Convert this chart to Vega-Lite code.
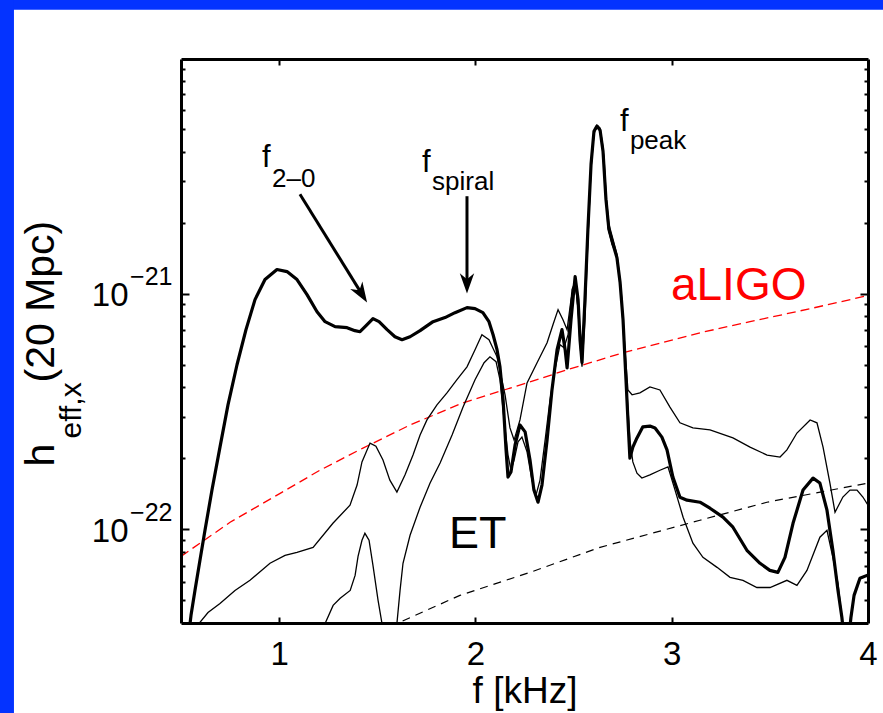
{
  "$schema": "https://vega.github.io/schema/vega-lite/v6.json",
  "width": 687,
  "height": 564,
  "autosize": {"type": "none"},
  "padding": {"left": 181, "top": 59, "right": 15, "bottom": 90},
  "background": "white",
  "config": {
    "font": "Liberation Sans",
    "view": {"stroke": null},
    "axis": {"grid": false, "labelColor": "black", "titleColor": "black", "titleFontWeight": "normal", "tickColor": "black", "domainColor": "black", "labelFont": "Liberation Sans", "titleFont": "Liberation Sans"}
  },
  "datasets": {
    "thick": [
      {"f":0.5357,"h":3.37e-23},{"f":0.551,"h":4.31e-23},{"f":0.5711,"h":5.50e-23},{"f":0.5966,"h":7.38e-23},{"f":0.6222,"h":9.90e-23},{"f":0.6578,"h":1.466e-22},{"f":0.6986,"h":2.23e-22},{"f":0.7394,"h":3.37e-22},{"f":0.7853,"h":4.99e-22},{"f":0.8311,"h":7.03e-22},{"f":0.877,"h":9.43e-22},{"f":0.9279,"h":1.147e-21},{"f":0.989,"h":1.265e-21},{"f":1.040,"h":1.24e-21},{"f":1.091,"h":1.147e-21},{"f":1.142,"h":9.90e-22},{"f":1.193,"h":8.38e-22},{"f":1.234,"h":7.60e-22},{"f":1.285,"h":7.24e-22},{"f":1.346,"h":7.17e-22},{"f":1.386,"h":6.96e-22},{"f":1.412,"h":6.89e-22},{"f":1.443,"h":7.31e-22},{"f":1.478,"h":7.83e-22},{"f":1.509,"h":7.60e-22},{"f":1.550,"h":7.03e-22},{"f":1.590,"h":6.56e-22},{"f":1.626,"h":6.37e-22},{"f":1.667,"h":6.56e-22},{"f":1.718,"h":6.96e-22},{"f":1.784,"h":7.60e-22},{"f":1.845,"h":7.91e-22},{"f":1.896,"h":8.30e-22},{"f":1.957,"h":8.72e-22},{"f":1.998,"h":8.63e-22},{"f":2.038,"h":8.30e-22},{"f":2.069,"h":7.60e-22},{"f":2.090,"h":6.69e-22},{"f":2.110,"h":5.78e-22},{"f":2.125,"h":4.89e-22},{"f":2.141,"h":3.54e-22},{"f":2.156,"h":2.17e-22},{"f":2.166,"h":1.665e-22},{"f":2.181,"h":1.75e-22},{"f":2.202,"h":2.28e-22},{"f":2.227,"h":2.77e-22},{"f":2.253,"h":2.59e-22},{"f":2.278,"h":1.966e-22},{"f":2.298,"h":1.466e-22},{"f":2.319,"h":1.302e-22},{"f":2.339,"h":1.54e-22},{"f":2.365,"h":2.39e-22},{"f":2.390,"h":3.90e-22},{"f":2.416,"h":5.78e-22},{"f":2.441,"h":7.03e-22},{"f":2.457,"h":5.78e-22},{"f":2.467,"h":4.84e-22},{"f":2.487,"h":7.75e-22},{"f":2.508,"h":1.181e-21},{"f":2.523,"h":9.43e-22},{"f":2.533,"h":6.37e-22},{"f":2.543,"h":5.09e-22},{"f":2.558,"h":9.43e-22},{"f":2.573,"h":1.872e-21},{"f":2.589,"h":3.54e-21},{"f":2.604,"h":4.89e-21},{"f":2.619,"h":5.14e-21},{"f":2.635,"h":4.94e-21},{"f":2.650,"h":4.02e-21},{"f":2.665,"h":2.51e-21},{"f":2.680,"h":1.872e-21},{"f":2.701,"h":1.62e-21},{"f":2.721,"h":1.42e-21},{"f":2.737,"h":1.114e-21},{"f":2.752,"h":7.75e-22},{"f":2.767,"h":4.31e-22},{"f":2.777,"h":2.91e-22},{"f":2.787,"h":2.005e-22},{"f":2.802,"h":2.23e-22},{"f":2.823,"h":2.44e-22},{"f":2.853,"h":2.72e-22},{"f":2.889,"h":2.74e-22},{"f":2.915,"h":2.69e-22},{"f":2.950,"h":2.46e-22},{"f":2.976,"h":2.17e-22},{"f":3.006,"h":1.665e-22},{"f":3.042,"h":1.368e-22},{"f":3.078,"h":1.328e-22},{"f":3.144,"h":1.302e-22},{"f":3.195,"h":1.228e-22},{"f":3.261,"h":1.125e-22},{"f":3.312,"h":1.020e-22},{"f":3.383,"h":8.14e-23},{"f":3.450,"h":7.17e-23},{"f":3.500,"h":6.69e-23},{"f":3.541,"h":6.56e-23},{"f":3.577,"h":7.60e-23},{"f":3.618,"h":1.06e-22},{"f":3.669,"h":1.466e-22},{"f":3.720,"h":1.648e-22},{"f":3.755,"h":1.57e-22},{"f":3.791,"h":1.205e-22},{"f":3.821,"h":8.14e-23},{"f":3.847,"h":5.50e-23},{"f":3.867,"h":4.22e-23},{"f":3.882,"h":3.21e-23},{"f":3.898,"h":3.21e-23},{"f":3.913,"h":4.22e-23},{"f":3.929,"h":5.24e-23},{"f":3.959,"h":6.19e-23},{"f":3.995,"h":6.37e-23},{"f":4.020,"h":6.19e-23}
    ],
    "thin1": [
      {"f":0.5764,"h":3.37e-23},{"f":0.5917,"h":3.98e-23},{"f":0.6376,"h":4.43e-23},{"f":0.6986,"h":4.84e-23},{"f":0.775,"h":5.50e-23},{"f":0.8515,"h":6.07e-23},{"f":0.9534,"h":7.17e-23},{"f":1.030,"h":7.75e-23},{"f":1.091,"h":7.98e-23},{"f":1.173,"h":8.38e-23},{"f":1.274,"h":1.06e-22},{"f":1.361,"h":1.265e-22},{"f":1.397,"h":1.54e-22},{"f":1.422,"h":1.93e-22},{"f":1.463,"h":2.32e-22},{"f":1.493,"h":2.25e-22},{"f":1.529,"h":1.966e-22},{"f":1.564,"h":1.616e-22},{"f":1.600,"h":1.437e-22},{"f":1.641,"h":1.698e-22},{"f":1.682,"h":2.065e-22},{"f":1.718,"h":2.51e-22},{"f":1.753,"h":2.91e-22},{"f":1.804,"h":3.37e-22},{"f":1.855,"h":3.79e-22},{"f":1.906,"h":4.31e-22},{"f":1.957,"h":4.89e-22},{"f":1.998,"h":5.78e-22},{"f":2.033,"h":6.69e-22},{"f":2.069,"h":6.37e-22},{"f":2.110,"h":5.39e-22},{"f":2.151,"h":3.72e-22},{"f":2.176,"h":2.69e-22},{"f":2.197,"h":2.39e-22},{"f":2.227,"h":2.91e-22},{"f":2.263,"h":4.18e-22},{"f":2.314,"h":5.09e-22},{"f":2.365,"h":6.19e-22},{"f":2.395,"h":7.38e-22},{"f":2.421,"h":8.55e-22},{"f":2.446,"h":7.75e-22},{"f":2.467,"h":7.03e-22},{"f":2.487,"h":9.43e-22},{"f":2.508,"h":1.147e-21},{"f":2.523,"h":8.55e-22},{"f":2.538,"h":5.89e-22},{"f":2.554,"h":7.75e-22},{"f":2.573,"h":1.698e-21},{"f":2.589,"h":3.37e-21},{"f":2.604,"h":4.75e-21},{"f":2.619,"h":5.19e-21},{"f":2.635,"h":5.04e-21},{"f":2.650,"h":4.18e-21},{"f":2.665,"h":2.64e-21},{"f":2.680,"h":1.97e-21},{"f":2.701,"h":1.70e-21},{"f":2.721,"h":1.47e-21},{"f":2.742,"h":1.04e-21},{"f":2.762,"h":5.78e-22},{"f":2.777,"h":3.90e-22},{"f":2.798,"h":3.72e-22},{"f":2.838,"h":3.79e-22},{"f":2.889,"h":4.02e-22},{"f":2.940,"h":3.90e-22},{"f":2.991,"h":3.30e-22},{"f":3.042,"h":2.83e-22},{"f":3.108,"h":2.69e-22},{"f":3.195,"h":2.64e-22},{"f":3.312,"h":2.44e-22},{"f":3.399,"h":2.23e-22},{"f":3.486,"h":2.065e-22},{"f":3.552,"h":2.025e-22},{"f":3.587,"h":2.17e-22},{"f":3.638,"h":2.56e-22},{"f":3.705,"h":2.91e-22},{"f":3.740,"h":2.83e-22},{"f":3.771,"h":2.23e-22},{"f":3.806,"h":1.57e-22},{"f":3.832,"h":1.18e-22},{"f":3.872,"h":1.37e-22},{"f":3.908,"h":1.466e-22},{"f":3.944,"h":1.466e-22},{"f":3.974,"h":1.37e-22},{"f":4.0,"h":1.265e-22}
    ],
    "thin2": [
      {"f":1.210,"h":3.37e-23},{"f":1.234,"h":3.98e-23},{"f":1.275,"h":4.75e-23},{"f":1.311,"h":5.09e-23},{"f":1.362,"h":5.50e-23},{"f":1.387,"h":6.37e-23},{"f":1.402,"h":7.67e-23},{"f":1.422,"h":8.98e-23},{"f":1.437,"h":9.61e-23},{"f":1.458,"h":8.98e-23},{"f":1.478,"h":7.03e-23},{"f":1.504,"h":4.99e-23},{"f":1.524,"h":3.98e-23},{"f":1.534,"h":3.21e-23},{"f":1.585,"h":3.21e-23},{"f":1.600,"h":3.98e-23},{"f":1.616,"h":5.50e-23},{"f":1.631,"h":7.17e-23},{"f":1.667,"h":9.43e-23},{"f":1.718,"h":1.24e-22},{"f":1.769,"h":1.57e-22},{"f":1.820,"h":1.91e-22},{"f":1.881,"h":2.51e-22},{"f":1.937,"h":3.30e-22},{"f":1.998,"h":4.31e-22},{"f":2.044,"h":5.09e-22},{"f":2.074,"h":5.39e-22},{"f":2.105,"h":5.14e-22},{"f":2.125,"h":4.31e-22},{"f":2.146,"h":2.91e-22},{"f":2.166,"h":2.065e-22},{"f":2.181,"h":1.78e-22},{"f":2.197,"h":1.966e-22},{"f":2.217,"h":2.35e-22},{"f":2.237,"h":2.46e-22},{"f":2.263,"h":2.13e-22},{"f":2.288,"h":1.616e-22},{"f":2.309,"h":1.40e-22},{"f":2.329,"h":1.616e-22},{"f":2.355,"h":2.39e-22},{"f":2.380,"h":3.54e-22},{"f":2.405,"h":4.75e-22},{"f":2.431,"h":6.07e-22},{"f":2.451,"h":5.89e-22},{"f":2.472,"h":6.69e-22},{"f":2.492,"h":1.04e-21},{"f":2.508,"h":1.125e-21},{"f":2.523,"h":8.55e-22},{"f":2.533,"h":6.07e-22},{"f":2.543,"h":4.89e-22},{"f":2.558,"h":7.75e-22},{"f":2.573,"h":1.70e-21},{"f":2.589,"h":3.47e-21},{"f":2.604,"h":4.84e-21},{"f":2.619,"h":5.09e-21},{"f":2.635,"h":4.89e-21},{"f":2.655,"h":3.79e-21},{"f":2.675,"h":1.91e-21},{"f":2.696,"h":1.62e-21},{"f":2.721,"h":1.45e-21},{"f":2.742,"h":1.02e-21},{"f":2.762,"h":5.24e-22},{"f":2.787,"h":2.39e-22},{"f":2.802,"h":1.93e-22},{"f":2.823,"h":1.73e-22},{"f":2.848,"h":1.65e-22},{"f":2.889,"h":1.70e-22},{"f":2.940,"h":1.78e-22},{"f":2.981,"h":1.84e-22},{"f":3.017,"h":1.466e-22},{"f":3.058,"h":1.125e-22},{"f":3.108,"h":8.72e-23},{"f":3.159,"h":7.60e-23},{"f":3.231,"h":6.89e-23},{"f":3.297,"h":6.25e-23},{"f":3.363,"h":6.07e-23},{"f":3.434,"h":5.66e-23},{"f":3.501,"h":5.66e-23},{"f":3.587,"h":6.07e-23},{"f":3.638,"h":5.78e-23},{"f":3.689,"h":6.69e-23},{"f":3.755,"h":9.25e-23},{"f":3.791,"h":9.90e-23},{"f":3.821,"h":7.60e-23},{"f":3.847,"h":5.89e-23},{"f":3.867,"h":4.22e-23},{"f":3.877,"h":3.21e-23}
    ],
    "aligo": [
      {"f":0.5,"h":7.67e-23},{"f":0.75,"h":1.07e-22},{"f":1.005,"h":1.42e-22},{"f":1.208,"h":1.78e-22},{"f":1.427,"h":2.21e-22},{"f":1.667,"h":2.77e-22},{"f":1.937,"h":3.44e-22},{"f":2.278,"h":4.22e-22},{"f":2.467,"h":4.75e-22},{"f":2.752,"h":5.61e-22},{"f":3.144,"h":6.82e-22},{"f":3.399,"h":7.60e-22},{"f":3.705,"h":8.63e-22},{"f":4.0,"h":9.81e-22}
    ],
    "et": [
      {"f":1.566,"h":3.83e-23},{"f":1.600,"h":3.98e-23},{"f":1.921,"h":5.24e-23},{"f":2.278,"h":6.56e-23},{"f":2.635,"h":8.38e-23},{"f":3.144,"h":1.092e-22},{"f":3.485,"h":1.302e-22},{"f":4.0,"h":1.57e-22}
    ],
    "shafts": [
      {"f":1.106,"h":2.64e-21,"f2":1.417,"h2":1.01e-21},
      {"f":1.957,"h":2.59e-21,"f2":1.957,"h2":1.11e-21}
    ],
    "head1": [{"f":1.448,"h":9.16e-22}],
    "head2": [{"f":1.957,"h":1.0e-21}],
    "mainText": [
      {"f":0.9127,"h":3.44e-21,"t":"f"},
      {"f":1.728,"h":3.27e-21,"t":"f"},
      {"f":2.736,"h":4.89e-21,"t":"f"}
    ],
    "subText": [
      {"f":0.9636,"h":2.83e-21,"t":"2–0"},
      {"f":1.779,"h":2.74e-21,"t":"spiral"},
      {"f":2.787,"h":4.10e-21,"t":"peak"}
    ],
    "etText": [{"f":1.865,"h":8.30e-23,"t":"ET"}],
    "ligoText": [{"f":2.996,"h":9.43e-22,"t":"aLIGO"}]
  },
  "resolve": {"axis": {"x": "independent", "y": "independent"}},
  "layer": [
    {
      "data": {"values": [{}]},
      "mark": {"type": "rect", "color": "#0433ff", "clip": false},
      "encoding": {
        "x": {"datum": -2, "type": "quantitative", "scale": {"domain": [0.5, 4], "nice": false}, "axis": null},
        "x2": {"datum": 5},
        "y": {"datum": 1e-19, "type": "quantitative", "scale": {"type": "log", "domain": [4e-23, 9.9e-21], "nice": false}, "axis": null},
        "y2": {"datum": 1.6e-20}
      }
    },
    {
      "data": {"values": [{}]},
      "mark": {"type": "rect", "color": "#0433ff", "clip": false},
      "encoding": {
        "x": {"datum": -2, "type": "quantitative", "scale": {"domain": [0.5, 4], "nice": false}, "axis": null},
        "x2": {"datum": -0.351},
        "y": {"datum": 1e-19, "type": "quantitative", "scale": {"type": "log", "domain": [4e-23, 9.9e-21], "nice": false}, "axis": null},
        "y2": {"datum": 1e-24}
      }
    },
    {
      "data": {"name": "aligo"},
      "mark": {"type": "line", "color": "#ff0000", "strokeWidth": 1.3, "strokeDash": [9, 5], "clip": true},
      "encoding": {
        "x": {"field": "f", "type": "quantitative", "scale": {"domain": [0.5, 4], "nice": false},
          "axis": {"zindex": 2, "orient": "bottom", "values": [1, 2, 3], "labels": false, "ticks": true, "tickSize": -6, "tickWidth": 2, "domain": false, "title": null}},
        "y": {"field": "h", "type": "quantitative", "scale": {"type": "log", "domain": [4e-23, 9.9e-21], "nice": false},
          "axis": {"zindex": 2, "orient": "left", "values": [1e-22, 1e-21], "labelExpr": "datum.value < 5e-22 ? '−22' : '−21'", "labelFontSize": 25, "labelAlign": "right", "labelBaseline": "alphabetic", "labelPadding": 9, "labelOffset": -9, "labelFlush": false, "ticks": false, "domain": false,
            "title": "(20 Mpc)", "titleFontSize": 41, "titleX": -128, "titleY": 323, "titleAngle": 270, "titleAlign": "left", "titleBaseline": "alphabetic"}}
      }
    },
    {
      "data": {"name": "et"},
      "mark": {"type": "line", "color": "black", "strokeWidth": 1.2, "strokeDash": [8, 6], "clip": true},
      "encoding": {
        "x": {"field": "f", "type": "quantitative", "scale": {"domain": [0.5, 4], "nice": false}, "axis": null},
        "y": {"field": "h", "type": "quantitative", "scale": {"type": "log", "domain": [4e-23, 9.9e-21], "nice": false},
          "axis": {"zindex": 2, "orient": "left", "values": [1e-22, 1e-21], "labels": false, "ticks": true, "tickSize": -8, "tickWidth": 2, "domain": false, "title": null}}
      }
    },
    {
      "data": {"name": "thin1"},
      "mark": {"type": "line", "color": "black", "strokeWidth": 1.3, "clip": true},
      "encoding": {
        "x": {"field": "f", "type": "quantitative", "scale": {"domain": [0.5, 4], "nice": false}, "axis": null},
        "y": {"field": "h", "type": "quantitative", "scale": {"type": "log", "domain": [4e-23, 9.9e-21], "nice": false},
          "axis": {"zindex": 2, "orient": "left", "values": [5e-23,6e-23,7e-23,8e-23,9e-23,2e-22,3e-22,4e-22,5e-22,6e-22,7e-22,8e-22,9e-22,2e-21,3e-21,4e-21,5e-21,6e-21,7e-21,8e-21,9e-21],
            "labels": false, "ticks": true, "tickWidth": 2, "tickSize": -4, "domain": false,
            "title": "eff,x", "titleFontSize": 30, "titleX": -101, "titleY": 379, "titleAngle": 270, "titleAlign": "left", "titleBaseline": "alphabetic"}}
      }
    },
    {
      "data": {"name": "thin2"},
      "mark": {"type": "line", "color": "black", "strokeWidth": 1.3, "clip": true},
      "encoding": {
        "x": {"field": "f", "type": "quantitative", "scale": {"domain": [0.5, 4], "nice": false},
          "axis": {"zindex": 2, "orient": "top", "values": [1, 2, 3], "labels": false, "ticks": true, "tickSize": -6, "tickWidth": 2, "domain": true, "domainWidth": 3, "title": null}},
        "y": {"field": "h", "type": "quantitative", "scale": {"type": "log", "domain": [4e-23, 9.9e-21], "nice": false},
          "axis": {"zindex": 2, "orient": "right", "values": [5e-23,6e-23,7e-23,8e-23,9e-23,2e-22,3e-22,4e-22,5e-22,6e-22,7e-22,8e-22,9e-22,2e-21,3e-21,4e-21,5e-21,6e-21,7e-21,8e-21,9e-21],
            "labels": false, "ticks": true, "tickWidth": 2, "tickSize": -4, "domain": true, "domainWidth": 3, "title": null}}
      }
    },
    {
      "data": {"name": "thick"},
      "mark": {"type": "line", "color": "black", "strokeWidth": 3.2, "strokeJoin": "round", "clip": true},
      "encoding": {
        "x": {"field": "f", "type": "quantitative", "scale": {"domain": [0.5, 4], "nice": false},
          "axis": {"zindex": 2, "orient": "bottom", "values": [1, 2, 3, 4], "labelFontSize": 33, "labelAlign": "center", "labelBaseline": "alphabetic", "labelPadding": 41, "labelFlush": false, "ticks": false, "domain": true, "domainWidth": 3,
            "title": "f [kHz]", "titleFontSize": 37, "titleBaseline": "alphabetic", "titleY": 79}},
        "y": {"field": "h", "type": "quantitative", "scale": {"type": "log", "domain": [4e-23, 9.9e-21], "nice": false},
          "axis": {"zindex": 2, "orient": "left", "values": [1e-22, 1e-21], "labelExpr": "'10'", "labelFontSize": 33, "labelAlign": "right", "labelBaseline": "alphabetic", "labelPadding": 53, "labelOffset": 12, "labelFlush": false, "ticks": false, "domain": true, "domainWidth": 3,
            "title": "h", "titleFontSize": 41, "titleX": -128, "titleY": 407, "titleAngle": 270, "titleAlign": "left", "titleBaseline": "alphabetic"}}
      }
    },
    {
      "data": {"name": "shafts"},
      "mark": {"type": "rule", "color": "black", "strokeWidth": 3},
      "encoding": {
        "x": {"field": "f", "type": "quantitative", "scale": {"domain": [0.5, 4], "nice": false}, "axis": null},
        "x2": {"field": "f2"},
        "y": {"field": "h", "type": "quantitative", "scale": {"type": "log", "domain": [4e-23, 9.9e-21], "nice": false},
          "axis": {"zindex": 2, "orient": "right", "values": [1e-22, 1e-21], "labels": false, "ticks": true, "tickSize": -8, "tickWidth": 2, "domain": false, "title": null}},
        "y2": {"field": "h2"}
      }
    },
    {
      "data": {"name": "head1"},
      "mark": {"type": "point", "shape": "M0,0 L-0.6,-1.7 L0,-1.2 L0.6,-1.7 Z", "size": 576, "angle": -32, "filled": true, "color": "black", "opacity": 1, "strokeWidth": 0},
      "encoding": {
        "x": {"field": "f", "type": "quantitative", "scale": {"domain": [0.5, 4], "nice": false}, "axis": null},
        "y": {"field": "h", "type": "quantitative", "scale": {"type": "log", "domain": [4e-23, 9.9e-21], "nice": false}, "axis": null}
      }
    },
    {
      "data": {"name": "head2"},
      "mark": {"type": "point", "shape": "M0,0 L-0.6,-1.7 L0,-1.2 L0.6,-1.7 Z", "size": 576, "angle": 0, "filled": true, "color": "black", "opacity": 1, "strokeWidth": 0},
      "encoding": {
        "x": {"field": "f", "type": "quantitative", "scale": {"domain": [0.5, 4], "nice": false}, "axis": null},
        "y": {"field": "h", "type": "quantitative", "scale": {"type": "log", "domain": [4e-23, 9.9e-21], "nice": false}, "axis": null}
      }
    },
    {
      "data": {"name": "mainText"},
      "mark": {"type": "text", "align": "left", "baseline": "alphabetic", "fontSize": 31, "color": "black", "font": "Liberation Sans"},
      "encoding": {
        "x": {"field": "f", "type": "quantitative", "scale": {"domain": [0.5, 4], "nice": false}, "axis": null},
        "y": {"field": "h", "type": "quantitative", "scale": {"type": "log", "domain": [4e-23, 9.9e-21], "nice": false}, "axis": null},
        "text": {"field": "t"}
      }
    },
    {
      "data": {"name": "subText"},
      "mark": {"type": "text", "align": "left", "baseline": "alphabetic", "fontSize": 26, "color": "black", "font": "Liberation Sans"},
      "encoding": {
        "x": {"field": "f", "type": "quantitative", "scale": {"domain": [0.5, 4], "nice": false}, "axis": null},
        "y": {"field": "h", "type": "quantitative", "scale": {"type": "log", "domain": [4e-23, 9.9e-21], "nice": false}, "axis": null},
        "text": {"field": "t"}
      }
    },
    {
      "data": {"name": "etText"},
      "mark": {"type": "text", "align": "left", "baseline": "alphabetic", "fontSize": 45, "color": "black", "font": "Liberation Sans"},
      "encoding": {
        "x": {"field": "f", "type": "quantitative", "scale": {"domain": [0.5, 4], "nice": false}, "axis": null},
        "y": {"field": "h", "type": "quantitative", "scale": {"type": "log", "domain": [4e-23, 9.9e-21], "nice": false}, "axis": null},
        "text": {"field": "t"}
      }
    },
    {
      "data": {"name": "ligoText"},
      "mark": {"type": "text", "align": "left", "baseline": "alphabetic", "fontSize": 46, "color": "#ff0000", "font": "Liberation Sans"},
      "encoding": {
        "x": {"field": "f", "type": "quantitative", "scale": {"domain": [0.5, 4], "nice": false}, "axis": null},
        "y": {"field": "h", "type": "quantitative", "scale": {"type": "log", "domain": [4e-23, 9.9e-21], "nice": false}, "axis": null},
        "text": {"field": "t"}
      }
    }
  ]
}
